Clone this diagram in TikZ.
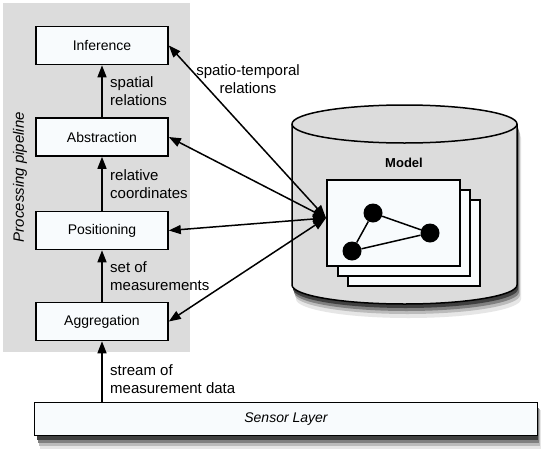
\documentclass[tikz,border=0pt]{standalone}
\usepackage{fontspec}
\setmainfont{Liberation Sans}
\usetikzlibrary{arrows.meta}
\definecolor{pipegray}{HTML}{DCDCDC}
\definecolor{paleblue}{HTML}{F8FBFD}
\definecolor{sh1}{HTML}{E6E6E6}
\definecolor{sh2}{HTML}{BBBBBB}
\definecolor{sh3}{HTML}{808080}
\definecolor{sh4}{HTML}{404040}
\tikzset{
  x=1pt, y=-1pt,
  procbox/.style={draw=black, line width=1.6pt, fill=paleblue, minimum width=132pt, minimum height=38pt, inner sep=0pt, font=\fontsize{14}{16}\selectfont},
  lbl/.style={anchor=west, align=left, inner sep=0pt, font=\fontsize{15}{18.5}\selectfont},
  flow/.style={line width=1.5pt, -{Triangle[length=12pt,width=9pt]}},
  biflow/.style={line width=1.5pt, {Triangle[length=13pt,width=10pt]}-{Triangle[length=12pt,width=9pt]}},
  frame/.style={draw=black, line width=1.5pt, fill=paleblue},
  gnode/.style={circle, fill=black, minimum size=19pt, inner sep=0pt},
  edge/.style={line width=1.5pt}
}
\newcommand{\cylshape}{(292,124) -- (292,285) arc[start angle=180, end angle=360, x radius=112.5pt, y radius=19pt] -- (517,124)
  arc[start angle=0, end angle=180, x radius=112.5pt, y radius=19pt] -- cycle}
\begin{document}
\begin{tikzpicture}
\useasboundingbox (0,0) rectangle (556,458);
\fill[white] (0,0) rectangle (556,458);
% pipeline background
\fill[pipegray] (3,3) rectangle (190,352);
\node[rotate=90, font=\fontsize{15}{18}\selectfont\itshape, inner sep=0pt] (pipe) at (20,177) {Processing pipeline};
% boxes
\node[procbox] (inf) at (102,45.5) {Inference};
\node[procbox] (abs) at (102,137) {Abstraction};
\node[procbox] (pos) at (102,230.5) {Positioning};
\node[procbox] (agg) at (102,321.5) {Aggregation};
% sensor shadow
\fill[sh1] (40,410) rectangle (541,449);
\fill[sh2] (39,409) rectangle (540,446);
\fill[sh3] (38,408) rectangle (539,443);
\fill[sh4] (37,406) rectangle (538,440);
\node[draw=black, line width=1.6pt, fill=paleblue, minimum width=503pt, minimum height=33pt, inner sep=0pt, font=\fontsize{14}{16}\selectfont\itshape] (sensor) at (286,419) {Sensor Layer};
% vertical flows
\draw[flow] (abs.north) -- (inf.south);
\draw[flow] (pos.north) -- (abs.south);
\draw[flow] (agg.north) -- (pos.south);
\draw[flow] (sensor.north -| agg.south) -- (agg.south);
% labels
\node[lbl] (l1) at (110,91) {spatial\\relations};
\node[lbl] (l2) at (110,184) {relative\\coordinates};
\node[lbl] (l3) at (110,276) {set of\\measurements};
\node[lbl] (l4) at (110,379) {stream of\\measurement data};
% cylinder shadow
\begin{scope}[shift={(4,14)}]\fill[sh1] \cylshape;\end{scope}
\begin{scope}[shift={(3,10)}]\fill[sh2] \cylshape;\end{scope}
\begin{scope}[shift={(2,7)}]\fill[sh3] \cylshape;\end{scope}
\begin{scope}[shift={(1,4)}]\fill[sh4] \cylshape;\end{scope}
% cylinder
\path[draw=black, line width=1.5pt, fill=pipegray] \cylshape;
\draw[line width=1.5pt] (292,124) arc[start angle=180, end angle=360, x radius=112.5pt, y radius=19pt];
\node[font=\fontsize{13}{15}\selectfont\bfseries] (model) at (404,163) {Model};
% frames
\draw[frame] (348,200) rectangle (480,286);
\draw[frame] (338,190) rectangle (470,276);
\draw[frame] (327,180) rectangle (460,266);
\node[gnode] (g1) at (373,213) {};
\node[gnode] (g2) at (430,233) {};
\node[gnode] (g3) at (352,251) {};
\draw[edge] (g1) -- (g2) -- (g3) -- (g1);
% model connectors
\coordinate (conv) at (326,218);
\draw[biflow] (conv) -- (inf.east);
\draw[biflow] (conv) -- (abs.east);
\draw[biflow] (conv) -- (pos.east);
\draw[biflow] (conv) -- (agg.east);
\node[align=center, inner sep=0pt, font=\fontsize{15}{18.5}\selectfont] (st) at (248,79) {spatio-temporal\\relations};
\end{tikzpicture}
\end{document}
